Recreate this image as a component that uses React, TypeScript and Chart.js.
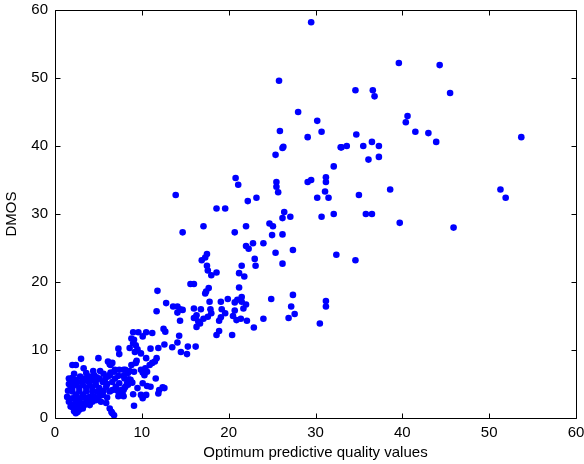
import React, { useEffect, useRef } from "react";
import { Chart, registerables } from "chart.js";
Chart.register(...registerables);

// Optimum predictive quality values (x) vs DMOS (y)
const xValues: number[] = [
  29.5, 25.8, 28.0, 30.2, 25.9, 30.7, 29.1, 26.3, 26.2, 32.9, 25.4, 32.1, 25.5, 25.5, 25.7, 29.5, 29.1, 31.2, 31.2, 31.1,
  30.2, 31.5, 26.4, 26.2, 27.1, 30.7, 32.1, 24.7, 25.1, 25.0, 26.2, 25.4, 27.4, 32.4, 26.2, 24.9, 27.4, 27.2, 27.6, 26.9,
  31.2, 31.2, 30.5, 39.6, 44.3, 34.6, 36.6, 36.8, 45.5, 40.6, 40.4, 34.7, 41.5, 43.0, 43.9, 53.7, 36.5, 33.0, 33.6, 35.5,
  37.3, 36.1, 37.3, 38.6, 51.3, 51.9, 35.0, 35.8, 36.5, 39.7, 45.9, 34.6, 20.8, 21.1, 22.2, 23.2, 19.6, 18.6, 13.9, 22.0,
  20.7, 22.0, 22.8, 24.0, 22.3, 17.1, 14.7, 17.5, 17.3, 16.9, 17.5, 17.6, 18.6, 18.0, 23.0, 23.1, 21.5, 21.2, 21.8, 16.0,
  15.6, 17.7, 17.4, 17.3, 21.2, 11.8,
  17.8, 16.0, 16.8, 17.9, 18.0, 17.6, 16.2, 17.1, 16.7, 16.3, 19.1, 19.9, 19.2, 19.6, 19.1, 18.9, 20.7, 21.0, 21.5, 21.5,
  22.0, 21.7, 20.7, 20.5, 20.9, 21.4, 22.1, 22.9, 24.0, 20.4, 18.9, 18.6, 12.8, 11.7, 13.6, 14.1, 14.4, 14.7, 14.1, 14.4,
  16.5, 16.0, 16.3, 14.3, 14.1, 12.5, 12.7, 10.1, 10.5, 11.2, 9.0, 9.6, 8.8, 9.1, 9.0, 9.3, 9.5, 9.2, 9.9, 12.6,
  11.9, 11.0, 13.5, 14.5, 15.2, 15.3, 16.2, 11.7, 11.5, 11.2, 10.9, 10.5, 9.4, 9.3, 10.4, 9.9, 10.1, 10.6, 9.1, 8.4,
  7.9, 7.4, 6.6, 6.9, 6.4, 7.3, 7.9, 8.5, 8.9, 8.3, 8.1, 7.6, 7.0, 7.3, 7.9, 11.6, 12.4, 12.0, 11.9, 9.0,
  10.1, 9.1, 10.3, 10.1, 9.5, 9.9, 10.5, 10.6, 11.0, 12.6, 8.1, 8.7, 7.9,
  7.3, 8.6, 5.0, 6.1, 6.3, 6.4, 3.0, 2.0, 2.4, 3.3, 5.2, 4.4, 1.6, 2.0, 2.9, 3.4, 4.0, 4.5, 5.1, 5.8,
  6.3, 6.8, 7.4, 8.6, 2.4, 6.6, 6.8, 6.3, 7.4, 7.8, 8.0, 8.4, 5.9, 6.3, 5.5, 4.7, 5.3, 5.9, 3.6, 4.0,
  2.6, 2.2, 3.2, 1.6, 1.4, 2.0, 2.8, 3.6, 4.3, 5.1, 6.6, 7.4, 4.7, 4.0, 3.2, 2.4, 1.8, 2.0, 2.8, 4.0,
  4.5, 2.4, 3.0, 4.3, 3.6, 2.4, 2.0, 5.5, 6.1, 2.8, 3.6, 4.3, 2.0, 5.1, 6.6, 7.0, 2.2, 2.6, 1.8, 8.0,
  8.6, 8.8, 6.4, 6.5,
  1.5, 2.4, 3.2, 3.9, 3.4, 2.6, 1.9, 4.9, 5.6, 6.0, 3.0, 3.9, 4.8, 1.6, 2.2, 3.6, 4.8, 5.6, 6.0, 6.9,
  7.2, 2.8, 2.0, 5.0, 4.3, 3.4
];
const yValues: number[] = [
  58.2, 49.6, 45.0, 43.7, 42.2, 42.1, 41.3, 39.9, 39.7, 39.8, 38.7, 37.0, 34.7, 34.0, 33.2, 35.0, 34.7, 35.4, 34.7, 33.3,
  32.4, 32.4, 30.3, 29.4, 29.6, 29.6, 30.0, 28.6, 28.2, 26.9, 27.0, 24.3, 24.7, 24.0, 22.7, 17.5, 18.1, 16.4, 15.3, 14.7,
  17.2, 16.4, 13.9, 52.2, 51.9, 48.2, 48.2, 47.3, 47.8, 44.4, 43.5, 41.7, 42.1, 41.9, 40.6, 41.3, 40.6, 39.8, 40.0, 40.0,
  40.0, 38.0, 38.4, 33.6, 33.6, 32.4, 32.8, 30.0, 30.0, 28.7, 28.0, 23.2, 35.3, 34.3, 31.9, 32.4, 30.8, 30.8, 32.8, 28.2,
  27.3, 25.3, 25.7, 25.7, 24.9, 28.2, 27.3, 24.1, 23.6, 23.2, 22.4, 21.7, 21.4, 21.0, 23.4, 22.4, 22.4, 21.3, 20.8, 19.7,
  19.7, 19.1, 18.6, 18.3, 19.2, 18.7,
  17.1, 16.1, 16.0, 16.0, 15.4, 14.9, 14.8, 14.6, 13.9, 13.4, 17.1, 17.5, 16.0, 15.4, 14.8, 14.3, 17.0, 17.4, 17.8, 17.1,
  16.7, 16.1, 15.8, 15.0, 14.4, 14.6, 14.3, 13.3, 14.6, 12.2, 12.8, 12.2, 16.9, 15.7, 16.4, 16.4, 16.0, 15.9, 15.5, 14.3,
  14.2, 14.7, 15.1, 12.1, 11.1, 13.1, 12.7, 12.0, 12.6, 12.5, 12.6, 12.6, 11.7, 11.5, 11.0, 10.7, 10.1, 9.7, 9.5, 10.8,
  10.3, 10.2, 10.4, 9.7, 9.4, 10.5, 10.5, 8.8, 8.3, 8.1, 7.8, 8.8, 8.4, 8.1, 7.3, 7.1, 6.7, 6.8, 6.8, 6.6,
  7.1, 9.4, 8.1, 7.1, 6.7, 6.2, 6.2, 5.7, 5.2, 5.1, 4.6, 4.1, 4.2, 3.2, 3.2, 5.8, 4.5, 4.1, 3.6, 3.5,
  2.9, 1.8, 6.3, 5.1, 4.4, 3.4, 3.4, 4.7, 4.6, 4.4, 7.1, 5.6, 4.1,
  10.2, 10.3, 8.8, 8.3, 7.9, 8.0, 8.7, 7.8, 7.8, 7.3, 6.9, 6.9, 5.8, 5.9, 6.1, 5.8, 6.1, 6.3, 5.8, 5.8,
  6.3, 6.8, 7.1, 6.9, 0.7, 0.7, 0.4, 1.4, 3.4, 3.4, 4.4, 4.9, 4.6, 3.9, 3.4, 2.6, 2.4, 2.2, 2.4, 1.9,
  1.7, 1.2, 1.4, 2.4, 3.1, 3.9, 3.9, 3.9, 3.9, 4.4, 5.3, 5.1, 4.9, 4.9, 4.9, 4.9, 4.6, 2.9, 2.9, 3.1,
  3.1, 2.2, 2.2, 5.6, 5.6, 5.6, 5.3, 5.3, 6.1, 4.4, 4.4, 4.4, 4.4, 3.6, 4.1, 4.6, 1.0, 0.9, 1.7, 5.8,
  5.3, 7.8, 7.8, 0.9,
  4.0, 3.4, 3.4, 2.6, 3.0, 2.6, 2.0, 3.9, 4.0, 3.0, 5.3, 5.3, 5.6, 5.0, 6.5, 6.6, 6.0, 6.5, 5.0, 5.8,
  4.0, 1.2, 1.6, 2.9, 2.4, 1.9
];
const xTickValues = [0, 10, 20, 30, 40, 50, 60];
const yTickValues = [0, 10, 20, 30, 40, 50, 60];

const FONT = "'Liberation Sans', Arial, sans-serif";

const framePlugin = {
  id: "matlabFrame",
  afterDraw(chart: any) {
    const { ctx, chartArea: a, scales } = chart;
    const L = Math.round(a.left) + 0.5;
    const R = Math.round(a.right) + 0.5;
    const T = Math.round(a.top) + 0.5;
    const B = Math.round(a.bottom) + 0.5;
    ctx.save();
    ctx.strokeStyle = "#000";
    ctx.lineWidth = 1;
    ctx.beginPath();
    ctx.rect(L, T, R - L, B - T);
    const len = 5;
    xTickValues.forEach((v) => {
      const p = Math.round(scales.x.getPixelForValue(v)) + 0.5;
      ctx.moveTo(p, B);
      ctx.lineTo(p, B - len);
      ctx.moveTo(p, T);
      ctx.lineTo(p, T + len);
    });
    yTickValues.forEach((v) => {
      const p = Math.round(scales.y.getPixelForValue(v)) + 0.5;
      ctx.moveTo(L, p);
      ctx.lineTo(L + len, p);
      ctx.moveTo(R, p);
      ctx.lineTo(R - len, p);
    });
    ctx.stroke();
    ctx.restore();
  },
};

export default function App() {
  const ref = useRef<HTMLCanvasElement | null>(null);
  useEffect(() => {
    if (!ref.current) return;
    const data = xValues.map((x, i) => ({ x, y: yValues[i] }));
    const chart = new Chart(ref.current, {
      type: "scatter",
      data: {
        datasets: [
          {
            data,
            pointRadius: 3.3,
            pointHoverRadius: 3.3,
            pointBackgroundColor: "#0000ff",
            pointBorderWidth: 0,
            borderColor: "#0000ff",
            showLine: false,
          },
        ],
      },
      options: {
        animation: false,
        responsive: false,
        events: [],
        layout: { padding: { top: 10, right: 8, left: 0, bottom: 0 } },
        plugins: { legend: { display: false }, tooltip: { enabled: false } },
        scales: {
          x: {
            type: "linear",
            min: 0,
            max: 60,
            afterFit: (s: any) => {
              s.height = 46;
              s.paddingLeft = 0;
              s.paddingRight = 0;
            },
            afterBuildTicks: (s: any) => {
              s.ticks = xTickValues.map((v) => ({ value: v }));
            },
            grid: { display: false, drawTicks: false },
            border: { display: false },
            ticks: { color: "#000", padding: 6, font: { family: FONT, size: 15 } },
            title: {
              display: true,
              text: "Optimum predictive quality values",
              color: "#000",
              font: { family: FONT, size: 15 },
              padding: { top: 0, bottom: 2 },
            },
          },
          y: {
            type: "linear",
            min: 0,
            max: 60,
            afterFit: (s: any) => {
              s.width = 55;
              s.paddingTop = 0;
              s.paddingBottom = 0;
            },
            afterBuildTicks: (s: any) => {
              s.ticks = yTickValues.map((v) => ({ value: v }));
            },
            grid: { display: false, drawTicks: false },
            border: { display: false },
            ticks: { color: "#000", padding: 7, font: { family: FONT, size: 15 } },
            title: {
              display: true,
              text: "DMOS",
              color: "#000",
              font: { family: FONT, size: 15 },
              padding: { top: 3, bottom: 0 },
            },
          },
        },
      },
      plugins: [framePlugin],
    });
    return () => chart.destroy();
  }, []);
  return (
    <div style={{ position: "absolute", left: 0, top: 0, width: 584, height: 464, background: "#fff" }}>
      <canvas ref={ref} width={584} height={464} style={{ display: "block" }} />
    </div>
  );
}
